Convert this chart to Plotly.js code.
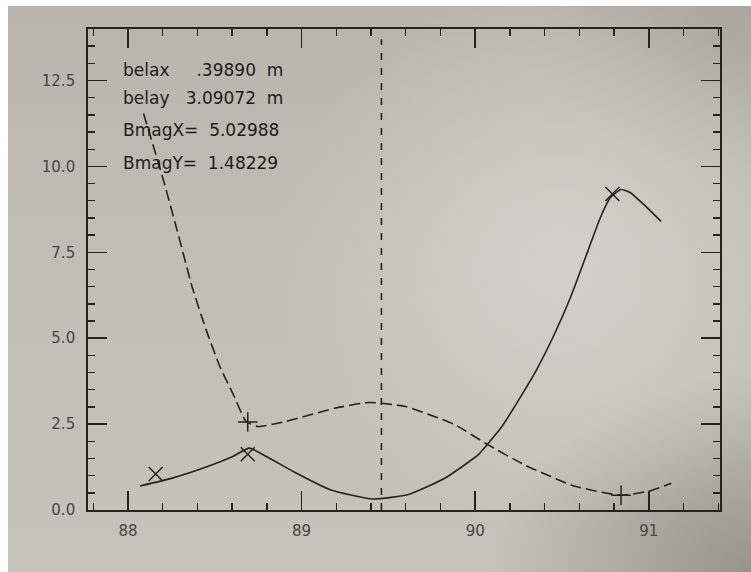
<!DOCTYPE html>
<html><head><meta charset="utf-8">
<script src="https://cdn.plot.ly/plotly-3.0.1.min.js"></script>
<style>
html,body{margin:0;padding:0;background:#ffffff;}
#wrap{position:relative;width:751px;height:572px;overflow:hidden;background:#fff;}
#bg{position:absolute;left:8px;top:6px;right:0;bottom:0;
background:
 radial-gradient(ellipse 38% 48% at 74% 45%, rgba(214,211,206,0.9) 0%, rgba(214,211,206,0) 100%),
 radial-gradient(ellipse 35% 35% at 100% 100%, rgba(140,135,128,0.8) 0%, rgba(140,135,128,0) 100%),
 radial-gradient(ellipse 30% 30% at 100% 0%, rgba(160,155,148,0.6) 0%, rgba(160,155,148,0) 100%),
 linear-gradient(to bottom, #b9b5ae 0%, #c1bdb7 45%, #c6c2bc 100%);}
#plot{position:absolute;left:0;top:0;width:751px;height:572px;}
</style></head>
<body><div id="wrap"><div id="bg"></div><div id="plot"></div></div>
<script>
// solid curve (beta x)
const solidX = [88.07, 88.25, 88.45, 88.60, 88.70, 88.80, 88.96, 89.17, 89.41, 89.62, 89.83, 90.02, 90.07, 90.15, 90.25, 90.35, 90.45, 90.55, 90.65, 90.72, 90.78, 90.84, 90.89, 90.98, 91.07];
const solidY = [0.70, 0.92, 1.25, 1.55, 1.80, 1.55, 1.10, 0.58, 0.32, 0.46, 0.94, 1.62, 1.91, 2.40, 3.20, 4.05, 5.05, 6.20, 7.55, 8.50, 9.10, 9.33, 9.25, 8.85, 8.40];
// dashed curve (beta y)
const dashX = [88.09, 88.20, 88.28, 88.37, 88.45, 88.53, 88.61, 88.68, 88.75, 88.91, 89.19, 89.39, 89.60, 89.88, 90.07, 90.29, 90.57, 90.84, 91.00, 91.13];
const dashY = [11.54, 9.68, 8.20, 6.49, 5.25, 4.17, 3.33, 2.58, 2.43, 2.58, 2.96, 3.13, 3.01, 2.49, 1.91, 1.30, 0.70, 0.43, 0.55, 0.78];
// markers
const xMarkX = [88.16, 88.69, 90.79];
const xMarkY = [1.05, 1.62, 9.20];
const plusMarkX = [88.69, 90.84];
const plusMarkY = [2.56, 0.43];
// vertical dashed marker position
const vLineX = 89.46;
// ticks
const xTickVals = [88, 89, 90, 91];
const xTickText = ['88', '89', '90', '91'];
const yTickVals = [0, 2.5, 5, 7.5, 10, 12.5];
const yTickText = ['0.0', '2.5', '5.0', '7.5', '10.0', '12.5'];
// annotation texts
const infoLines = ['belax\u00a0\u00a0\u00a0\u00a0\u00a0.39890\u00a0\u00a0m',
                   'belay\u00a0\u00a0\u00a03.09072\u00a0\u00a0m',
                   'BmagX=\u00a0\u00a05.02988',
                   'BmagY=\u00a0\u00a01.48229'];

const ink = '#26221e';
const traces = [
  {x: solidX, y: solidY, mode: 'lines', line: {color: ink, width: 1.6, shape: 'spline', smoothing: 0.5}, hoverinfo: 'skip'},
  {x: dashX, y: dashY, mode: 'lines', line: {color: ink, width: 1.6, dash: '11px,5px', shape: 'spline', smoothing: 0.5}, hoverinfo: 'skip'},
  {x: xMarkX, y: xMarkY, mode: 'markers', marker: {symbol: 'x-thin-open', size: 14, color: ink, line: {color: ink, width: 1.5}}},
  {x: plusMarkX, y: plusMarkY, mode: 'markers', marker: {symbol: 'cross-thin-open', size: 14, color: ink, line: {color: ink, width: 1.5}}},
  {x: [vLineX, vLineX], y: [0, 13.7], mode: 'lines', line: {color: ink, width: 1.6, dash: '7px,8px'}}
];

const yPos = [0.915, 0.857, 0.790, 0.721];
const annotations = infoLines.map((t, i) => ({
  text: t, xref: 'paper', yref: 'paper', x: 0.052, y: yPos[i],
  xanchor: 'left', yanchor: 'middle', showarrow: false,
  font: {family: 'DejaVu Sans', size: 17, color: '#1f1b17'}
}));

const axisCommon = {
  showgrid: false, zeroline: false, showline: true, linecolor: ink, linewidth: 1.8,
  mirror: 'ticks', ticks: 'inside', ticklen: 19, tickwidth: 1.6, tickcolor: ink,
  tickfont: {family: 'DejaVu Sans', size: 15, color: '#4a4540'}
};

const layout = {
  width: 751, height: 572,
  margin: {l: 88, r: 31, t: 29, b: 62},
  paper_bgcolor: 'rgba(0,0,0,0)', plot_bgcolor: 'rgba(0,0,0,0)',
  showlegend: false,
  xaxis: Object.assign({}, axisCommon, {
    range: [87.77, 91.41], tickmode: 'array', tickvals: xTickVals, ticktext: xTickText,
    ticklabelstandoff: 6,
    minor: {dtick: 0.2, tick0: 88, ticks: 'inside', ticklen: 7, tickwidth: 1.4, tickcolor: ink, showgrid: false}
  }),
  yaxis: Object.assign({}, axisCommon, {
    range: [0, 14.0], tickmode: 'array', tickvals: yTickVals, ticktext: yTickText,
    ticklabelstandoff: 8,
    minor: {dtick: 0.5, tick0: 0, ticks: 'inside', ticklen: 7, tickwidth: 1.4, tickcolor: ink, showgrid: false}
  }),
  annotations: annotations
};

Plotly.newPlot('plot', traces, layout, {displayModeBar: false, staticPlot: true});
</script></body></html>
